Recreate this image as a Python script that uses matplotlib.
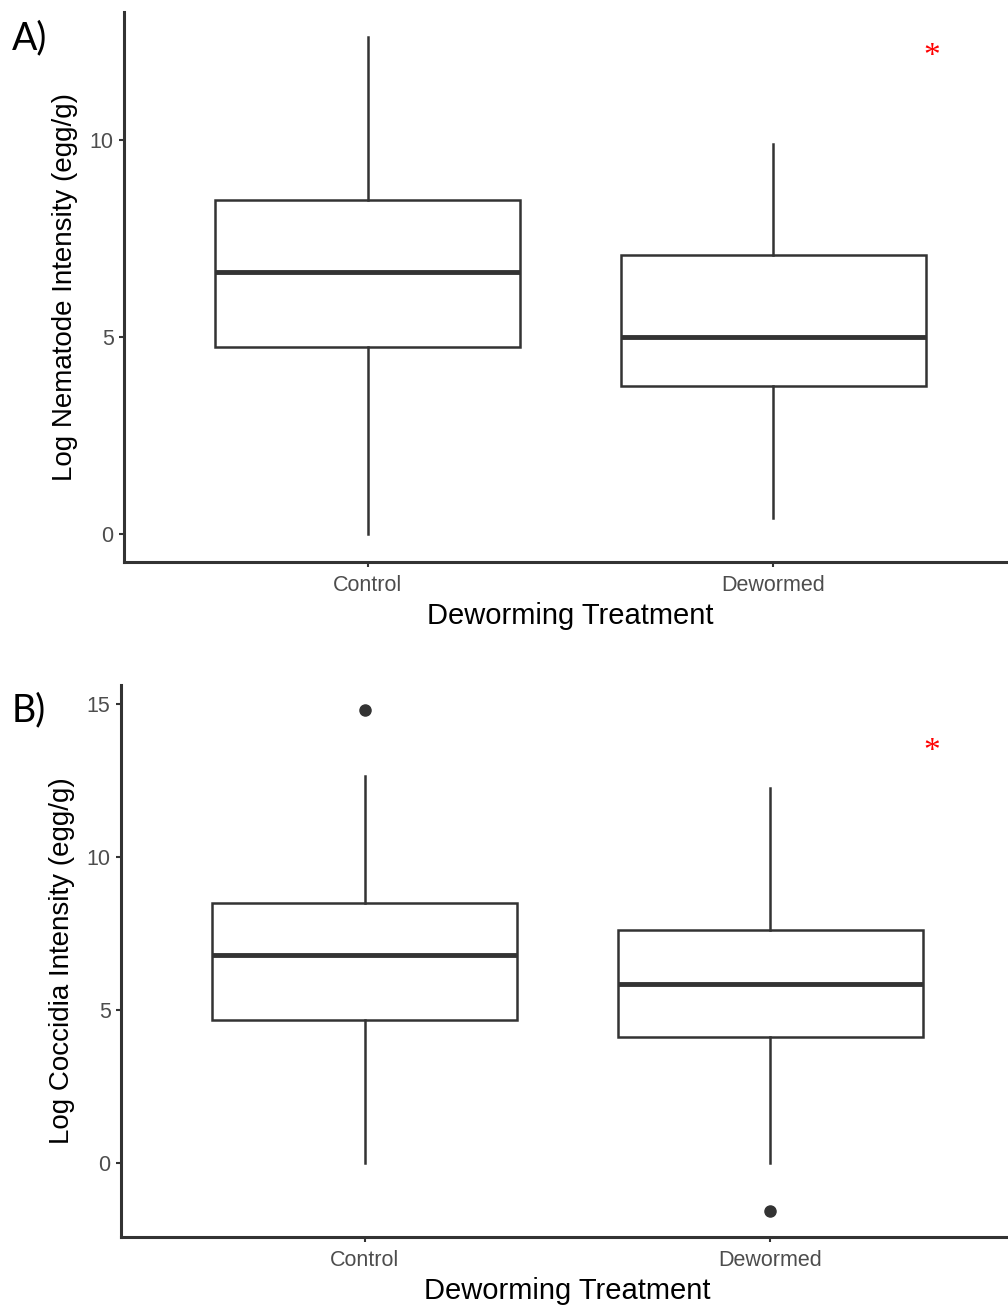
import matplotlib
matplotlib.use("Agg")
import matplotlib.pyplot as plt

plt.rcParams['font.family'] = ['Liberation Sans', 'DejaVu Sans']

groups = ["Control", "Dewormed"]

# Panel A: Log nematode intensity
nem_whislo = [0.0, 0.4]
nem_q1 = [4.75, 3.76]
nem_med = [6.65, 5.0]
nem_q3 = [8.48, 7.08]
nem_whishi = [12.61, 9.9]
nem_fliers = [[], []]

# Panel B: Log coccidia intensity
coc_whislo = [0.0, 0.0]
coc_q1 = [4.67, 4.12]
coc_med = [6.8, 5.85]
coc_q3 = [8.5, 7.61]
coc_whishi = [12.65, 12.25]
coc_fliers = [[14.8], [-1.57]]

W, H = 1008, 1305
fig = plt.figure(figsize=(W / 100, H / 100), dpi=100)

dark = "#333333"
grey = "#4d4d4d"


def panel(rect, whislo, q1, med, q3, whishi, fliers, ylabel, ylim, yticks, letter, letter_xy, star_xy):
    ax = fig.add_axes(rect)
    stats = []
    for i in range(len(groups)):
        stats.append(dict(whislo=whislo[i], q1=q1[i], med=med[i], q3=q3[i],
                          whishi=whishi[i], fliers=fliers[i], label=groups[i]))
    ax.bxp(stats, positions=[1, 2], widths=0.75, showcaps=False, patch_artist=True,
           boxprops=dict(facecolor="white", edgecolor=dark, linewidth=1.8),
           medianprops=dict(color=dark, linewidth=3.5, solid_capstyle="butt"),
           whiskerprops=dict(color=dark, linewidth=1.8),
           flierprops=dict(marker="o", markerfacecolor=dark, markeredgecolor=dark, markersize=8))
    ax.set_xlim(0.4, 2.6)
    ax.set_ylim(*ylim)
    ax.set_yticks(yticks)
    ax.set_yticklabels([str(t) for t in yticks])
    ax.set_xticks([1, 2])
    ax.set_xticklabels(groups)
    for s in ["top", "right"]:
        ax.spines[s].set_visible(False)
    for s in ["left", "bottom"]:
        ax.spines[s].set_linewidth(2.2)
        ax.spines[s].set_color(dark)
    ax.tick_params(axis="both", length=3.5, width=1.5, color=dark, labelcolor=grey,
                   labelsize=15.5, pad=4)
    ax.tick_params(axis="x", pad=6)
    ax.set_xlabel("Deworming Treatment", fontsize=21, color="black", labelpad=4)
    ax.set_ylabel(ylabel, fontsize=20, color="black", labelpad=8)
    fig.text(letter_xy[0] / W, 1 - letter_xy[1] / H, letter, fontsize=27, family="Lato",
             ha="left", va="center")
    fig.text(star_xy[0] / W, 1 - star_xy[1] / H, "*", fontsize=24, family="Liberation Serif",
             color="#ff0000", ha="center", va="center")
    return ax


panel([124 / W, 1 - 562 / H, 893 / W, 550 / H], nem_whislo, nem_q1, nem_med, nem_q3, nem_whishi,
      nem_fliers, "Log Nematode Intensity (egg/g)", (-0.711, 13.25), [0, 5, 10], "A)",
      (12, 38), (932, 57))
panel([121 / W, 1 - 1237 / H, 893 / W, 552 / H], coc_whislo, coc_q1, coc_med, coc_q3, coc_whishi,
      coc_fliers, "Log Coccidia Intensity (egg/g)", (-2.42, 15.62), [0, 5, 10, 15], "B)",
      (12, 710), (932, 752))

fig.savefig("out.png", dpi=100)
